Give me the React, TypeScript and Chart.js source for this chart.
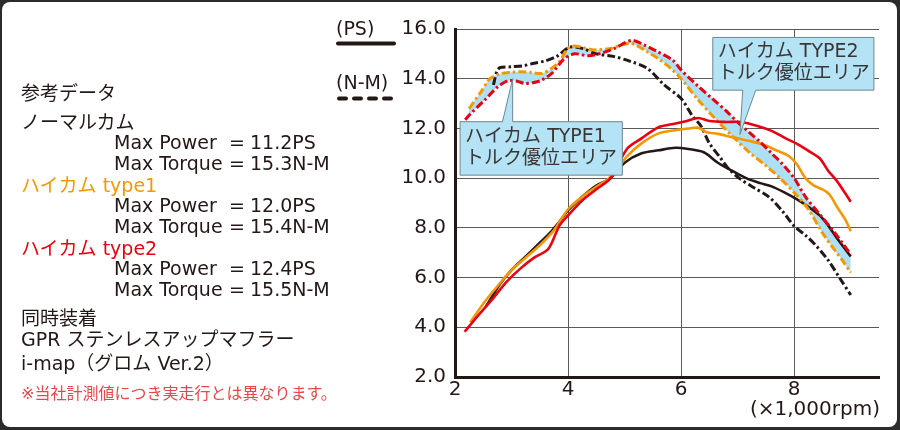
import React, { useEffect, useRef } from 'react';
import { Chart, registerables } from 'chart.js';

Chart.register(...registerables);

const FONT = '"DejaVu Sans", "Noto Sans CJK JP", sans-serif';
const INK = '#231815';
const ORANGE = '#f39800';
const RED = '#e60012';
const BAND = '#ade0f5';

// axis ticks
const xTicks = [2, 4, 6, 8];
const yTicks = [2, 4, 6, 8, 10, 12, 14, 16];
const yTickLabels = ['2.0', '4.0', '6.0', '8.0', '10.0', '12.0', '14.0', '16.0'];

// ノーマルカム
const normalPowerRpm = [2.55, 2.8, 3.0, 3.25, 3.5, 3.7, 3.85, 4.0, 4.25, 4.5, 4.75, 5.0, 5.3, 5.6, 5.9, 6.1, 6.4, 6.65, 6.9, 7.15, 7.4, 7.6, 7.85, 8.05, 8.25, 8.45, 8.6, 8.75, 8.9, 9.0];
const normalPower = [4.85, 5.75, 6.3, 6.85, 7.4, 7.85, 8.25, 8.7, 9.25, 9.7, 10.0, 10.62, 11.0, 11.12, 11.22, 11.18, 11.04, 10.62, 10.3, 10.0, 9.8, 9.67, 9.4, 9.15, 8.85, 8.5, 8.1, 7.6, 7.15, 6.85];
const normalTorqueRpm = [2.68, 2.74, 2.8, 3.0, 3.2, 3.4, 3.6, 3.8, 4.03, 4.25, 4.5, 4.8, 5.1, 5.4, 5.7, 6.0, 6.2, 6.35, 6.5, 6.7, 6.85, 7.05, 7.3, 7.55, 7.8, 8.0, 8.2, 8.4, 8.6, 8.8, 9.0];
const normalTorque = [13.75, 14.3, 14.45, 14.48, 14.52, 14.62, 14.72, 14.9, 15.27, 15.22, 15.0, 14.9, 14.7, 14.42, 13.75, 13.2, 12.5, 12.1, 11.4, 10.8, 10.35, 9.96, 9.6, 9.25, 8.65, 8.07, 7.7, 7.25, 6.7, 6.0, 5.3];

// ハイカム type1
const type1PowerRpm = [2.27, 2.5, 2.75, 3.0, 3.25, 3.5, 3.75, 4.0, 4.25, 4.5, 4.75, 5.05, 5.3, 5.6, 5.9, 6.15, 6.3, 6.45, 6.65, 6.9, 7.2, 7.45, 7.7, 7.9, 8.05, 8.2, 8.35, 8.5, 8.62, 8.77, 8.9, 9.0];
const type1Power = [4.2, 4.95, 5.65, 6.3, 6.8, 7.3, 7.9, 8.75, 9.25, 9.65, 10.05, 10.9, 11.4, 11.8, 11.93, 12.0, 12.03, 11.85, 11.78, 11.65, 11.5, 11.35, 11.1, 10.9, 10.55, 10.0, 9.7, 9.55, 9.35, 8.8, 8.35, 7.87];
const type1TorqueRpm = [2.25, 2.46, 2.62, 2.82, 3.0, 3.17, 3.35, 3.53, 3.7, 3.85, 4.0, 4.12, 4.3, 4.47, 4.77, 5.07, 5.2, 5.4, 5.6, 5.8, 6.0, 6.3, 6.6, 6.9, 7.2, 7.5, 7.75, 8.05, 8.25, 8.5, 8.7, 8.85, 9.0];
const type1Torque = [12.8, 13.47, 14.0, 14.21, 14.26, 14.28, 14.25, 14.21, 14.4, 14.7, 15.23, 15.32, 15.23, 15.16, 15.23, 15.43, 15.35, 15.09, 14.8, 14.45, 14.0, 13.15, 12.4, 11.7, 11.05, 10.5, 10.0, 9.3, 8.75, 7.8, 7.15, 6.7, 6.2];

// ハイカム type2
const type2PowerRpm = [2.17, 2.4, 2.65, 2.9, 3.15, 3.4, 3.65, 3.85, 4.0, 4.25, 4.5, 4.75, 5.05, 5.3, 5.6, 5.9, 6.1, 6.3, 6.5, 6.8, 7.05, 7.35, 7.6, 7.85, 8.05, 8.25, 8.45, 8.6, 8.75, 8.9, 9.0];
const type2Power = [3.82, 4.45, 5.1, 5.8, 6.35, 6.8, 7.15, 8.1, 8.5, 9.1, 9.55, 10.0, 11.2, 11.6, 12.05, 12.2, 12.3, 12.42, 12.3, 12.26, 12.26, 12.1, 11.9, 11.6, 11.38, 11.1, 10.8, 10.3, 9.9, 9.4, 9.05];
const type2TorqueRpm = [2.18, 2.28, 2.52, 2.76, 2.94, 3.1, 3.23, 3.4, 3.53, 3.71, 3.94, 4.12, 4.36, 4.59, 4.83, 5.12, 5.35, 5.58, 5.85, 6.0, 6.3, 6.55, 6.8, 7.0, 7.2, 7.4, 7.6, 7.8, 8.0, 8.2, 8.45, 8.7, 8.85, 9.0];
const type2Torque = [12.35, 12.6, 13.13, 13.68, 13.92, 13.9, 13.81, 13.85, 13.94, 14.21, 14.82, 15.0, 14.92, 15.03, 15.23, 15.54, 15.35, 15.09, 14.75, 14.35, 13.7, 13.2, 12.7, 12.25, 11.85, 11.45, 11.0, 10.55, 10.0, 9.25, 8.55, 7.85, 7.4, 6.93];

// reference data text
const camNames = ['ノーマルカム', 'ハイカム type1', 'ハイカム type2'];
const camColors = [INK, ORANGE, RED];
const maxPower = ['11.2PS', '12.0PS', '12.4PS'];
const maxTorque = ['15.3N-M', '15.4N-M', '15.5N-M'];

// callouts: box [xMin, xMax, yTop, yBottom] in data units, tip and base on the box edge
const callouts = [
  { lines: ['ハイカム TYPE1', 'トルク優位エリア'], box: [2.09, 4.96, 12.27, 10.12], base: [2.84, 3.02], tip: [3.02, 14.0], up: true },
  { lines: ['ハイカム TYPE2', 'トルク優位エリア'], box: [6.56, 9.41, 15.66, 13.54], base: [7.09, 7.32], tip: [7.04, 11.76], up: false },
];

const zip = (xs: number[], ys: number[]) => xs.map((x, i) => ({ x, y: ys[i] }));

const calloutPlugin = {
  id: 'callouts',
  afterDatasetsDraw(chart: any) {
    const { ctx } = chart;
    const xs = chart.scales.x;
    const ys = chart.scales.y;
    callouts.forEach((c) => {
      const l = xs.getPixelForValue(c.box[0]);
      const r = xs.getPixelForValue(c.box[1]);
      const t = ys.getPixelForValue(c.box[2]);
      const b = ys.getPixelForValue(c.box[3]);
      const b1 = xs.getPixelForValue(c.base[0]);
      const b2 = xs.getPixelForValue(c.base[1]);
      const ax = xs.getPixelForValue(c.tip[0]);
      const ay = ys.getPixelForValue(c.tip[1]);
      ctx.save();
      ctx.beginPath();
      if (c.up) {
        ctx.moveTo(l, t); ctx.lineTo(b1, t); ctx.lineTo(ax, ay); ctx.lineTo(b2, t);
        ctx.lineTo(r, t); ctx.lineTo(r, b); ctx.lineTo(l, b); ctx.closePath();
      } else {
        ctx.moveTo(l, t); ctx.lineTo(r, t); ctx.lineTo(r, b); ctx.lineTo(b2, b);
        ctx.lineTo(ax, ay); ctx.lineTo(b1, b); ctx.lineTo(l, b); ctx.closePath();
      }
      ctx.fillStyle = '#b4e3f6';
      ctx.fill();
      ctx.lineWidth = 1;
      ctx.strokeStyle = '#6e8790';
      ctx.stroke();
      ctx.fillStyle = '#3a3636';
      ctx.font = `19px ${FONT}`;
      ctx.textBaseline = 'middle';
      ctx.textAlign = 'left';
      ctx.fillText(c.lines[0], l + 5, t + 15);
      ctx.fillText(c.lines[1], l + 5, t + 37);
      ctx.restore();
    });
  },
  afterDraw(chart: any) {
    const { ctx } = chart;
    const left = chart.chartArea.left;
    ctx.save();
    ctx.strokeStyle = INK;
    ctx.lineWidth = 4;
    ctx.lineCap = 'round';
    ctx.beginPath();
    ctx.moveTo(left - 117, 43.5);
    ctx.lineTo(left - 61, 43.5);
    ctx.stroke();
    ctx.setLineDash([7, 8]);
    ctx.beginPath();
    ctx.moveTo(left - 116, 98.5);
    ctx.lineTo(left - 62, 98.5);
    ctx.stroke();
    ctx.restore();
  },
};

export default function App() {
  const ref = useRef<HTMLCanvasElement | null>(null);

  useEffect(() => {
    if (!ref.current) return;
    Chart.defaults.font.family = FONT;
    const powerLine = (color: string) => ({
      borderColor: color,
      borderWidth: 2.6,
      pointRadius: 0,
      tension: 0.3,
      fill: false,
    });
    const torqueLine = (color: string) => ({
      borderColor: color,
      borderWidth: 3,
      borderDash: [8, 3, 2.5, 3],
      pointRadius: 0,
      tension: 0.3,
      fill: false,
    });
    const chart = new Chart(ref.current, {
      type: 'line',
      data: {
        datasets: [
          { label: 'type2 torque', data: zip(type2TorqueRpm, type2Torque), ...torqueLine(RED), fill: { target: 2 }, backgroundColor: BAND },
          { label: 'type2 power', data: zip(type2PowerRpm, type2Power), ...powerLine(RED) },
          { label: 'type1 torque', data: zip(type1TorqueRpm, type1Torque), ...torqueLine(ORANGE) },
          { label: 'type1 power', data: zip(type1PowerRpm, type1Power), ...powerLine(ORANGE) },
          { label: 'normal power', data: zip(normalPowerRpm, normalPower), ...powerLine(INK) },
          { label: 'normal torque', data: zip(normalTorqueRpm, normalTorque), ...torqueLine(INK) },
        ] as any,
      },
      options: {
        animation: false,
        responsive: false,
        devicePixelRatio: 1,
        parsing: false as any,
        layout: { padding: { left: 385, top: 29, right: 21, bottom: 13 } },
        plugins: {
          legend: { display: false },
          tooltip: { enabled: false },
          filler: { propagate: false, drawTime: 'beforeDatasetsDraw' } as any,
        },
        scales: {
          x: {
            type: 'linear',
            min: 2,
            max: 9.5,
            afterBuildTicks: (s: any) => { s.ticks = xTicks.map((v) => ({ value: v })); },
            afterFit: (s: any) => { s.height = 40; },
            grid: { color: '#5a5a5a', lineWidth: 1, drawTicks: false },
            border: { display: true, color: INK, width: 3 },
            ticks: { color: INK, font: { size: 20, family: FONT }, padding: 1, maxRotation: 0 },
          },
          y: {
            type: 'linear',
            min: 2,
            max: 16,
            afterBuildTicks: (s: any) => { s.ticks = yTicks.map((v) => ({ value: v })); },
            afterFit: (s: any) => { s.width = 70; },
            grid: { color: '#5a5a5a', lineWidth: 1, drawTicks: false },
            border: { display: true, color: INK, width: 3 },
            ticks: {
              color: INK,
              font: { size: 20, family: FONT },
              padding: 9,
              callback: (v: any) => yTickLabels[yTicks.indexOf(Number(v))] ?? '',
            },
          },
        },
      } as any,
      plugins: [calloutPlugin],
    });
    return () => chart.destroy();
  }, []);

  const txt = (key: string, text: string, left: number, cy: number, color = INK, size = 19) => (
    <div
      key={key}
      style={{
        position: 'absolute',
        left,
        top: cy - 12,
        height: 24,
        lineHeight: '24px',
        fontSize: size,
        color,
        whiteSpace: 'nowrap',
        fontFamily: FONT,
      }}
    >
      {text}
    </div>
  );

  const specRows: any[] = [];
  camNames.forEach((name, i) => {
    const base = 121.7 + i * 63.3;
    specRows.push(txt(`n${i}`, name, 21, base, camColors[i]));
    specRows.push(txt(`p${i}`, 'Max Power', 114, base + 20));
    specRows.push(txt(`pe${i}`, '=', 229, base + 20));
    specRows.push(txt(`pv${i}`, maxPower[i], 250, base + 20));
    specRows.push(txt(`t${i}`, 'Max Torque', 114, base + 41));
    specRows.push(txt(`te${i}`, '=', 229, base + 41));
    specRows.push(txt(`tv${i}`, maxTorque[i], 250, base + 41));
  });

  return (
    <div style={{ position: 'fixed', left: 0, top: 0, width: 900, height: 430, background: '#2b2b2b', overflow: 'hidden' }}>
      <div style={{ position: 'absolute', left: 2, top: 2, right: 3, bottom: 3, background: '#ffffff', borderRadius: 8 }} />
      <canvas ref={ref} width={900} height={430} style={{ position: 'absolute', left: 0, top: 0, width: 900, height: 430 }} />
      <div style={{ position: 'absolute', left: 0, top: 0, width: 900, height: 430, pointerEvents: 'none' }}>
        {txt('title', '参考データ', 21, 93)}
        {specRows}
        {txt('same', '同時装着', 21, 318.3)}
        {txt('gpr', 'GPR ステンレスアップマフラー', 21, 339.3)}
        {txt('imap', 'i-map（グロム Ver.2）', 21, 363.3)}
        {txt('note', '※当社計測値につき実走行とは異なります。', 21, 394, '#e8474a', 16)}
        {txt('ps', '(PS)', 336, 28)}
        {txt('nm', '(N-M)', 336, 82)}
        <div style={{ position: 'absolute', right: 20, top: 396, height: 24, lineHeight: '24px', fontSize: 20, color: INK, fontFamily: FONT, whiteSpace: 'nowrap' }}>
          (×1,000rpm)
        </div>
      </div>
    </div>
  );
}
